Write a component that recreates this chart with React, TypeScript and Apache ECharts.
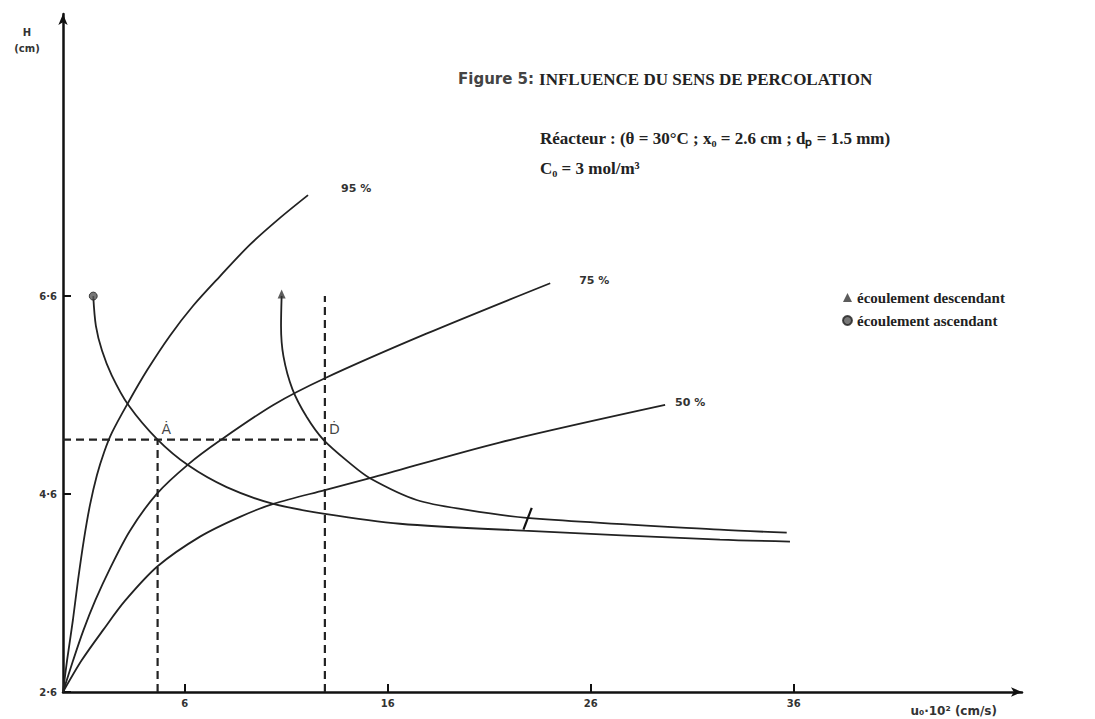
import React, { useEffect, useRef } from "react";
import * as echarts from "echarts";

// Axis ticks (value units: x = u0·10² in cm/s, y = H in cm)
const xTicks = [6, 16, 26, 36];
const xTickLabels = ["6", "16", "26", "36"];
const yTicks = [2.6, 4.6, 6.6];
const yTickLabels = ["2·6", "4·6", "6·6"];

// Iso-conversion curves
const curve95 = [[0, 2.6], [0.2, 2.92], [0.49, 3.33], [0.74, 3.73], [1.03, 4.14], [1.33, 4.49], [1.67, 4.79], [2.02, 5.02], [2.41, 5.22], [3.2, 5.52], [4.14, 5.85], [5.27, 6.2], [6.4, 6.5], [7.73, 6.8], [9.21, 7.12], [10.69, 7.39], [12.07, 7.62]];
const curve75 = [[0, 2.6], [0.5, 2.92], [1.0, 3.22], [1.6, 3.53], [2.32, 3.85], [3.3, 4.23], [4.61, 4.6], [6.17, 4.9], [7.73, 5.14], [10.36, 5.5], [12.9, 5.77], [17.9, 6.22], [24.0, 6.73]];
const curve50 = [[0, 2.6], [0.92, 2.92], [1.99, 3.23], [3.05, 3.52], [4.66, 3.87], [6.75, 4.17], [8.72, 4.37], [10.36, 4.5], [12.9, 4.64], [15.12, 4.76], [21.5, 5.12], [29.66, 5.5]];

// Flow-direction curves
const ascending = [[1.49, 6.6], [1.62, 6.3], [1.92, 6.05], [2.4, 5.8], [3.22, 5.5], [4.66, 5.15], [6.17, 4.89], [8.06, 4.67], [10.36, 4.5], [12.9, 4.4], [16.6, 4.3], [22.68, 4.23], [32.36, 4.14], [35.81, 4.12]];
const descending = [[10.77, 6.6], [10.74, 6.3], [10.86, 5.99], [11.3, 5.66], [12.0, 5.38], [12.82, 5.15], [14.14, 4.91], [15.12, 4.76], [17.42, 4.54], [19.89, 4.44], [22.84, 4.36], [32.36, 4.24], [35.65, 4.21]];
const breakMark = [[23.09, 4.46], [22.68, 4.24]];

// Operating points A and D
const pointLabels = ["Ȧ", "Ḋ"];
const points = [[4.66, 5.15], [12.9, 5.15]];
const dashA = [[4.66, 2.6], [4.66, 5.15]];
const dashH = [[0, 5.15], [12.9, 5.15]];
const dashD = [[12.9, 2.6], [12.9, 6.6]];

const INK = "#222222";
const SANS = "DejaVu Sans";
const SERIF = "Liberation Serif";

function tickLabel(ticks: number[], labels: string[], v: number) {
  const i = ticks.findIndex((t) => Math.abs(t - v) < 1e-6);
  return i >= 0 ? labels[i] : "";
}

export default function App() {
  const ref = useRef<HTMLDivElement>(null);
  useEffect(() => {
    if (!ref.current) return;
    const chart = echarts.init(ref.current, undefined, { renderer: "svg" });
    const curveLine = { color: INK, width: 1.8 };
    const dashLine = { color: INK, width: 2.2, type: [8, 5] as any };
    const curveLabel = (text: string, offset: number[]) => ({
      show: true,
      formatter: text,
      distance: 0,
      offset,
      fontFamily: SANS,
      fontSize: 11,
      fontWeight: "bold",
      color: "#333",
    });
    const option: any = {
      animation: false,
      backgroundColor: "#ffffff",
      title: [
        {
          text: "{a|Figure 5:} {b|INFLUENCE DU SENS DE PERCOLATION}",
          left: 458,
          top: 70,
          padding: 0,
          textStyle: {
            rich: {
              a: { fontFamily: SANS, fontSize: 15, color: "#444" },
              b: { fontFamily: SERIF, fontSize: 17, fontWeight: "bold", color: INK },
            },
          },
        },
        {
          text: "Réacteur : (θ = 30°C ; x₀ = 2.6 cm ; dₚ = 1.5 mm)",
          left: 540,
          top: 130,
          padding: 0,
          textStyle: { fontFamily: SERIF, fontSize: 17, fontWeight: "bold", color: INK },
        },
        {
          text: "C₀ = 3 mol/m³",
          left: 540,
          top: 160,
          padding: 0,
          textStyle: { fontFamily: SERIF, fontSize: 17, fontWeight: "bold", color: INK },
        },
      ],
      legend: {
        orient: "vertical",
        left: 837,
        top: 285,
        itemWidth: 9,
        itemHeight: 9,
        itemGap: 8,
        data: ["écoulement descendant", "écoulement ascendant"],
        textStyle: { fontFamily: SERIF, fontSize: 15, fontWeight: "bold", color: INK },
      },
      grid: { left: 63, right: 73, top: 14, bottom: 27 },
      xAxis: {
        type: "value",
        min: 0,
        max: 47.24,
        splitLine: { show: false },
        axisLine: { onZero: false, symbol: ["none", "arrow"], symbolSize: [7, 11], lineStyle: { color: "#111", width: 2.5 } },
        axisTick: { show: true, inside: true, length: 8, customValues: xTicks, lineStyle: { color: "#111", width: 2 } },
        axisLabel: {
          customValues: xTicks,
          formatter: (v: number) => tickLabel(xTicks, xTickLabels, v),
          fontFamily: SANS,
          fontSize: 10,
          fontWeight: "bold",
          color: "#333",
          margin: 6,
        },
        name: "u₀·10² (cm/s)",
        nameLocation: "end",
        nameGap: -25,
        nameTextStyle: { align: "right", verticalAlign: "top", padding: [13, 0, 0, 0], fontFamily: SANS, fontSize: 12, fontWeight: "bold", color: "#333" },
      },
      yAxis: {
        type: "value",
        min: 2.6,
        max: 9.45,
        splitLine: { show: false },
        axisLine: { onZero: false, symbol: ["none", "arrow"], symbolSize: [7, 11], lineStyle: { color: "#111", width: 2.5 } },
        axisTick: { show: true, inside: true, length: 8, customValues: yTicks, lineStyle: { color: "#111", width: 2 } },
        axisLabel: {
          customValues: yTicks,
          formatter: (v: number) => tickLabel(yTicks, yTickLabels, v),
          fontFamily: SANS,
          fontSize: 10,
          fontWeight: "bold",
          color: "#333",
          margin: 6,
        },
        name: "H\n(cm)",
        nameLocation: "end",
        nameGap: -10,
        nameTextStyle: { align: "center", verticalAlign: "top", padding: [0, 72, 0, 0], lineHeight: 16, fontFamily: SANS, fontSize: 10, fontWeight: "bold", color: "#333" },
      },
      series: [
        { name: "95 %", type: "line", data: curve95, symbol: "none", smooth: 0.3, lineStyle: curveLine, endLabel: curveLabel("95 %", [33, -7]) },
        { name: "75 %", type: "line", data: curve75, symbol: "none", smooth: 0.3, lineStyle: curveLine, endLabel: curveLabel("75 %", [29, -3]) },
        { name: "50 %", type: "line", data: curve50, symbol: "none", smooth: 0.3, lineStyle: curveLine, endLabel: curveLabel("50 %", [10, -2]) },
        { name: "asc", type: "line", data: ascending, symbol: "none", smooth: 0.3, lineStyle: curveLine },
        { name: "desc", type: "line", data: descending, symbol: "none", smooth: 0.3, lineStyle: curveLine },
        { name: "break", type: "line", data: breakMark, symbol: "none", lineStyle: { color: "#111", width: 2.2 } },
        { name: "dashA", type: "line", data: dashA, symbol: "none", lineStyle: dashLine },
        { name: "dashH", type: "line", data: dashH, symbol: "none", lineStyle: dashLine },
        { name: "dashD", type: "line", data: dashD, symbol: "none", lineStyle: dashLine },
        {
          name: "points",
          type: "scatter",
          data: points,
          symbolSize: 0,
          label: {
            show: true,
            position: "right",
            distance: 4,
            offset: [0, -11],
            formatter: (p: any) => pointLabels[p.dataIndex],
            fontFamily: SANS,
            fontSize: 14,
            color: "#111",
          },
        },
        { name: "écoulement descendant", type: "scatter", data: [descending[0]], symbol: "triangle", symbolSize: [8, 9], symbolOffset: [0, -2], itemStyle: { color: "#333" }, z: 5 },
        { name: "écoulement ascendant", type: "scatter", data: [ascending[0]], symbol: "circle", symbolSize: 8, itemStyle: { color: "#555", borderColor: "#222", borderWidth: 1 }, z: 5 },
      ],
    };
    chart.setOption(option);
    return () => chart.dispose();
  }, []);
  return <div ref={ref} style={{ position: "fixed", left: 0, top: 0, width: 1095, height: 719, background: "#fff" }} />;
}
